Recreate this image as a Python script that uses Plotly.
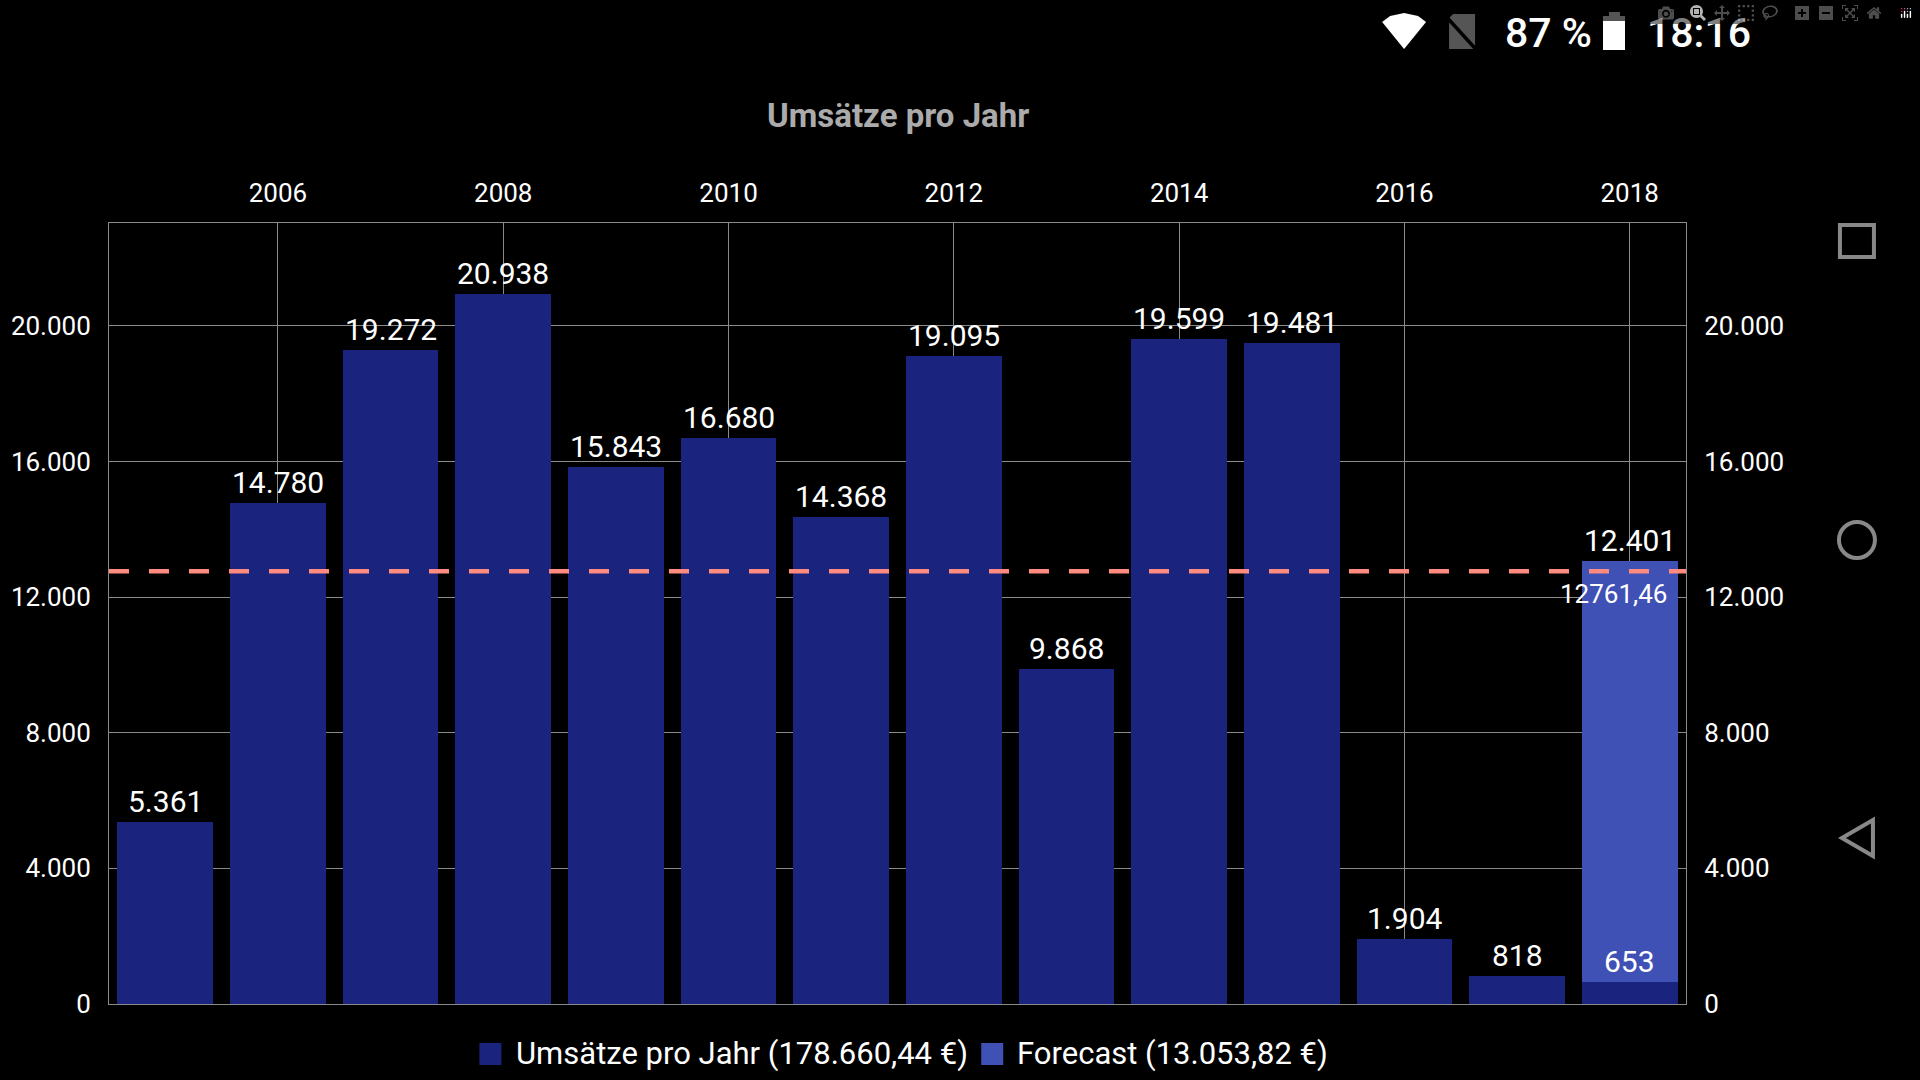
import plotly.graph_objects as go

years = [2005, 2006, 2007, 2008, 2009, 2010, 2011, 2012, 2013, 2014, 2015, 2016, 2017, 2018]
umsaetze = [5361, 14780, 19272, 20938, 15843, 16680, 14368, 19095, 9868, 19599, 19481, 1904, 818, 653]
forecast_year = [2018]
forecast = [12401]
average = 12761.46
average_label = "12761,46"
title = "Umsätze pro Jahr"
legend_items = ["Umsätze pro Jahr (178.660,44 €)", "Forecast (13.053,82 €)"]

W, H = 1920, 1080
L, R, T, B = 108.5, 1686, 223, 1004
DARK, BLUE, SALMON, GRID = "#1A237E", "#3F51B5", "#FF8A80", "#8A8A8A"
FONT = "Roboto"
YMAX = 23030


def px(x):
    return (x - L) / (R - L)


def py(y):
    return (B - y) / (B - T)


fig = go.Figure()
fig.add_bar(x=years, y=umsaetze, marker_color=DARK, marker_line_width=0, width=0.85, name=legend_items[0], showlegend=False)
fig.add_bar(x=forecast_year, y=forecast, marker_color=BLUE, marker_line_width=0, width=0.85, name=legend_items[1], showlegend=False)
fig.add_scatter(x=[2004.5, 2018.5], y=[average, average], mode="lines",
                line=dict(color=SALMON, width=4.5, dash="20px,20px"), showlegend=False, hoverinfo="skip")
# invisible trace that keeps the right-hand axis alive
fig.add_scatter(x=[2005], y=[0], yaxis="y2", mode="markers", marker_opacity=0, showlegend=False, hoverinfo="skip")

annotations = []
for yr, v in zip(years, umsaetze):
    if yr not in forecast_year:
        annotations.append(dict(x=yr, y=v, text=f"{v:,}".replace(",", "."), showarrow=False, xanchor="center",
                                yanchor="bottom", yshift=1, font=dict(family=FONT, size=30, color="white")))
annotations.append(dict(x=2018, y=653, text="653", showarrow=False, xanchor="center", yanchor="bottom", yshift=1,
                        font=dict(family=FONT, size=30, color="white")))
annotations.append(dict(x=2018, y=653 + 12401, text="12.401", showarrow=False, xanchor="center", yanchor="bottom", yshift=1,
                        font=dict(family=FONT, size=30, color="white")))
annotations.append(dict(x=2018.35, y=average, text=average_label, showarrow=False, xanchor="right", yanchor="top", yshift=-6,
                        font=dict(family=FONT, size=26, color="white")))


def label(x, y, text, size, color="white", weight=None, anchor="left"):
    annotations.append(dict(xref="paper", yref="paper", x=px(x), y=py(y), text=text, showarrow=False,
                            xanchor=anchor, yanchor="middle",
                            font=dict(family=FONT, size=size, color=color, **({"weight": weight} if weight else {}))))


label((L + R) / 2, 115, title, 33, "#ABABAB", 700, "center")
label(514, 1053, legend_items[0], 31)
label(1015, 1053, legend_items[1], 31)
label(1503, 33, "87 %", 41, weight=500)
label(1645, 33, "18:16", 41, weight=500)


def rect(x0, y0, x1, y1, fill=None, line=None, lw=0):
    return dict(type="rect", xref="paper", yref="paper", x0=px(x0), x1=px(x1), y0=py(y0), y1=py(y1),
                fillcolor=fill or "rgba(0,0,0,0)", line=dict(color=line or "rgba(0,0,0,0)", width=lw), layer="above")


def poly(points, fill=None, line=None, lw=0):
    d = "M" + " L".join(f"{px(x):.5f},{py(y):.5f}" for x, y in points) + " Z"
    return dict(type="path", xref="paper", yref="paper", path=d, fillcolor=fill or "rgba(0,0,0,0)",
                line=dict(color=line or "rgba(0,0,0,0)", width=lw), layer="above")


shapes = [
    rect(479, 1043, 501, 1065, DARK),
    rect(981, 1043, 1003, 1065, BLUE),
    poly([(1382, 22), (1390, 16), (1404, 13), (1418, 16), (1426, 22), (1404, 49)], "white"),
    poly([(1449, 18), (1453, 14), (1475, 14), (1475, 49), (1449, 49)], "#555555"),
    poly([(1445, 18), (1448, 16), (1478, 49), (1475, 51)], "#000000"),
    rect(1609, 12, 1620, 17, "#555555"),
    rect(1603, 16, 1625, 21, "#555555"),
    rect(1603, 21, 1625, 50, "white"),
    rect(1840, 225, 1874, 257, None, "#888888", 4),
    dict(type="circle", xref="paper", yref="paper", x0=px(1839), x1=px(1875), y0=py(522), y1=py(558),
         line=dict(color="#888888", width=4), layer="above"),
    poly([(1842, 838), (1873, 820), (1873, 856)], None, "#888888", 4),
]

axis_font = dict(family=FONT, size=26, color="white")
fig.update_layout(
    width=W, height=H, autosize=False, paper_bgcolor="black", plot_bgcolor="black",
    margin=dict(l=L, r=W - R, t=T, b=H - B, pad=0), barmode="stack", separators=",.",
    showlegend=False, annotations=annotations, shapes=shapes,
    xaxis=dict(range=[2004.5, 2018.5], side="top", tick0=2006, dtick=2, tickformat="d", showgrid=True, gridcolor=GRID,
               gridwidth=1, zeroline=False, showline=True, mirror=True, linecolor=GRID, linewidth=1, ticks="",
               tickfont=axis_font, ticklabelstandoff=10),
    yaxis=dict(range=[0, YMAX], tick0=0, dtick=4000, tickformat=",d", showgrid=True, gridcolor=GRID, gridwidth=1,
               zeroline=False, showline=True, linecolor=GRID, linewidth=1, ticks="", tickfont=axis_font, ticklabelstandoff=12),
    yaxis2=dict(range=[0, YMAX], overlaying="y", side="right", tick0=0, dtick=4000, tickformat=",d", showgrid=False,
                zeroline=False, showline=True, linecolor=GRID, linewidth=1, ticks="", tickfont=axis_font, ticklabelstandoff=12),
)

fig.write_html("out.html", post_script="document.body.style.margin='0';document.body.style.background='black';")
